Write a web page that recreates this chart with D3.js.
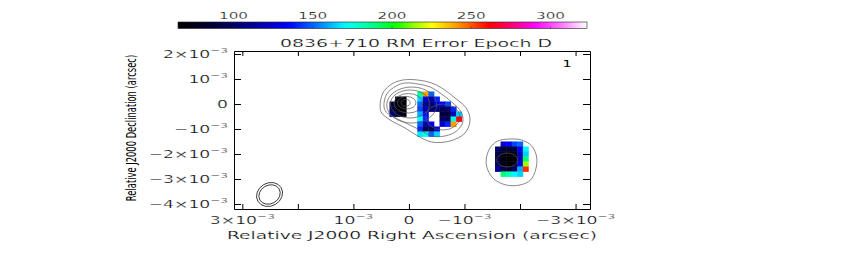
<!DOCTYPE html>
<html>
<head>
<meta charset="utf-8">
<script src="https://cdn.jsdelivr.net/npm/d3@7"></script>
<style>
  body { margin: 0; background: #fff; }
  svg text { font-family: "DejaVu Sans", sans-serif; fill: #000; stroke: #fff; stroke-width: 0.22; }
  svg text.plain { stroke: none; }
</style>
</head>
<body>
<div id="chart"></div>
<script>
// axis ticks (units of 1e-3 arcsec)
const X_TICKS = [3, 2, 1, 0, -1, -2, -3];
const X_TICK_LABELS = [["3×10", "−3"], null, ["10", "−3"], ["0", ""], ["−10", "−3"], null, ["−3×10", "−3"]];
const Y_TICKS = [2, 1, 0, -1, -2, -3, -4];
const Y_TICK_LABELS = [["2×10", "−3"], ["10", "−3"], ["0", ""], ["−10", "−3"], ["−2×10", "−3"], ["−3×10", "−3"], ["−4×10", "−3"]];

// colour wedge
const CB_TICKS = [100, 150, 200, 250, 300];
const CB_RANGE = [65, 323];
const COLOR_VALUES = [65, 86, 111, 135, 153, 171, 189, 202, 215, 225, 240, 261, 277, 290, 308, 323];
const COLOR_HEX = ["#000000", "#000030", "#000090", "#0000ff", "#0078ff", "#00ffff", "#00ff80", "#00ff00",
                   "#a0ff00", "#ffff00", "#ffa000", "#ff0000", "#ff0080", "#ff00ff", "#ff80ff", "#ffffff"];

// RM error pixels, cell size in 1e-3 arcsec
const CELL_DX = 0.1;
const CELL_DY = 0.2;

// core, top-left corner at (0.35, 0.3)
const CORE_ORIGIN = [0.35, 0.3];
const CORE_VALUES = [
  [null, 72, 70],
  [85, 68, 66],
  [92, 70, 68],
  [105, 82, 75]
];

// inner jet, top-left corner at (-0.15, 0.5)
const JET_ORIGIN = [-0.15, 0.5];
const JET_VALUES = [
  [185, 240, 150, null, null, null, null, null],
  [165, 125, 115, 140, null, null, null, null],
  [150, 110, 100, 125, 130, 145, null, null],
  [145, 115, 105, 105, 95, 100, 140, null],
  [160, 135, null, null, 90, 88, 120, 165],
  [170, 140, null, null, 100, 95, 175, 262],
  [150, 115, 130, null, 125, 140, 240, null],
  [140, 95, 92, 125, null, null, null, null],
  [168, 172, 150, 165, null, null, null, null]
];

// outer knot, top-left corner at (-1.55, -1.5)
const KNOT_ORIGIN = [-1.55, -1.5];
const KNOT_VALUES = [
  [null, 125, 135, 145, 150, null],
  [100, 90, 85, 90, 130, 170],
  [92, 75, 68, 72, 120, 165],
  [90, 70, 65, 68, 118, 190],
  [95, 75, 68, 75, 130, 215],
  [112, 92, 85, 100, 160, 255],
  [null, 190, 180, 170, 165, null]
];

// total intensity contours
const ENVELOPE_OUTER = [[0.52, -0.12], [0.47, 0.44], [0.31, 0.80], [0.11, 0.96], [-0.16, 0.96], [-0.41, 0.84],
  [-0.59, 0.64], [-0.83, 0.24], [-1.03, -0.16], [-1.10, -0.64], [-1.01, -1.16], [-0.74, -1.48],
  [-0.41, -1.52], [-0.16, -1.28], [0.07, -0.96], [0.34, -0.64], [0.49, -0.36]];
const ENVELOPE_INNER = [[0.45, -0.08], [0.40, 0.40], [0.23, 0.72], [0.07, 0.84], [-0.16, 0.80], [-0.38, 0.68],
  [-0.56, 0.44], [-0.77, 0.08], [-0.94, -0.32], [-0.97, -0.72], [-0.86, -1.08], [-0.65, -1.28],
  [-0.41, -1.28], [-0.20, -1.04], [0.02, -0.80], [0.27, -0.52], [0.41, -0.32]];
const KNOT_OUTLINE = [[-1.39, -2.24], [-1.46, -1.76], [-1.60, -1.48], [-1.82, -1.40], [-2.03, -1.44],
  [-2.21, -1.68], [-2.30, -2.12], [-2.28, -2.64], [-2.19, -3.04], [-2.00, -3.24], [-1.75, -3.24],
  [-1.53, -3.00], [-1.42, -2.64]];
// elliptical contours: cx, cy, rx, ry
const RINGS = [
  [-0.05, -0.04, 0.45, 0.72],
  [-0.02, 0.00, 0.355, 0.56],
  [0.01, 0.03, 0.26, 0.39],
  [0.04, 0.05, 0.166, 0.25],
  [0.06, 0.05, 0.081, 0.13],
  [-0.61, -0.52, 0.31, 0.52],
  [-1.77, -2.24, 0.19, 0.28]
];

// beam: cx, cy, rx, ry, angle
const BEAM = [
  [2.51, -3.62, 0.243, 0.46, -30],
  [2.51, -3.62, 0.20, 0.37, -30]
];

const WIDTH = 850, HEIGHT = 271;
const PLOT = {left: 234, right: 590, top: 51, bottom: 209};
const STRETCH = 1.72;

const svg = d3.select("#chart").append("svg")
  .attr("width", WIDTH).attr("height", HEIGHT);

const X = d3.scaleLinear().domain([3.15, -3.26]).range([PLOT.left, PLOT.right]);
const Y = d3.scaleLinear().domain([2.12, -4.2]).range([PLOT.top, PLOT.bottom]);
const COLOR = d3.scaleLinear().domain(COLOR_VALUES).range(COLOR_HEX).clamp(true);
const CB = d3.scaleLinear().domain(CB_RANGE).range([178, 587]);

// colour wedge
const grad = svg.append("defs").append("linearGradient").attr("id", "wedge");
d3.range(0, 1.0001, 0.02).forEach(t => {
  grad.append("stop").attr("offset", t)
    .attr("stop-color", COLOR(CB_RANGE[0] + t * (CB_RANGE[1] - CB_RANGE[0])));
});
svg.append("rect")
  .attr("x", CB(CB_RANGE[0])).attr("y", 22)
  .attr("width", CB(CB_RANGE[1]) - CB(CB_RANGE[0])).attr("height", 6.5)
  .attr("fill", "url(#wedge)").attr("stroke", "#222").attr("stroke-width", 0.6);
svg.selectAll(".cbtick").data(CB_TICKS).enter().append("line")
  .attr("x1", d => CB(d)).attr("x2", d => CB(d))
  .attr("y1", 26.5).attr("y2", 28.5)
  .attr("stroke", "#333").attr("stroke-width", 0.6);
svg.selectAll(".cblab").data(CB_TICKS).enter().append("g")
  .attr("transform", d => "translate(" + CB(d) + ",18.6) scale(1.9,1)")
  .append("text").attr("text-anchor", "middle").attr("font-size", 8)
  .text(d => d);

// title
svg.append("text")
  .attr("x", 416).attr("y", 47.3).attr("text-anchor", "middle")
  .attr("font-size", 10).attr("textLength", 272).attr("lengthAdjust", "spacingAndGlyphs")
  .text("0836+710  RM  Error  Epoch  D");

// RM error cells
function drawCells(values, origin) {
  const cells = [];
  values.forEach((row, r) => row.forEach((v, c) => {
    if (v !== null) cells.push({v: v, x: origin[0] - c * CELL_DX, y: origin[1] - r * CELL_DY});
  }));
  svg.append("g").selectAll("rect").data(cells).enter().append("rect")
    .attr("x", d => X(d.x))
    .attr("y", d => Y(d.y))
    .attr("width", d => X(d.x - CELL_DX) - X(d.x) + 0.4)
    .attr("height", d => Y(d.y - CELL_DY) - Y(d.y) + 0.4)
    .attr("fill", d => COLOR(d.v));
}
drawCells(CORE_VALUES, CORE_ORIGIN);
drawCells(JET_VALUES, JET_ORIGIN);
drawCells(KNOT_VALUES, KNOT_ORIGIN);

// contours
const contourLine = d3.line().x(d => X(d[0])).y(d => Y(d[1])).curve(d3.curveCatmullRomClosed);
const cg = svg.append("g").attr("fill", "none").attr("stroke", "#555").attr("stroke-width", 0.7);
[ENVELOPE_OUTER, ENVELOPE_INNER, KNOT_OUTLINE].forEach(pts => {
  cg.append("path").attr("d", contourLine(pts));
});
cg.selectAll("ellipse").data(RINGS).enter().append("ellipse")
  .attr("cx", d => X(d[0])).attr("cy", d => Y(d[1]))
  .attr("rx", d => X(d[0] - d[2]) - X(d[0]))
  .attr("ry", d => Y(d[1] - d[3]) - Y(d[1]));

// beam
svg.append("g").selectAll("ellipse").data(BEAM).enter().append("ellipse")
  .attr("transform", d => "translate(" + X(d[0]) + "," + Y(d[1]) + ") rotate(" + d[4] + ")")
  .attr("rx", d => X(d[0] - d[2]) - X(d[0]))
  .attr("ry", d => Y(d[1] - d[3]) - Y(d[1]))
  .attr("fill", "none").attr("stroke", "#222").attr("stroke-width", 0.8);

// frame and inward ticks
function frameAxis(axis, transform) {
  const g = svg.append("g").attr("transform", transform)
    .call(axis.tickSizeOuter(0).tickFormat(""));
  g.selectAll("path, line").attr("stroke", "#000").attr("stroke-width", 1);
}
frameAxis(d3.axisBottom(X).tickValues(X_TICKS).tickSize(-5), "translate(0," + PLOT.bottom + ")");
frameAxis(d3.axisTop(X).tickValues(X_TICKS).tickSize(-5), "translate(0," + PLOT.top + ")");
frameAxis(d3.axisLeft(Y).tickValues(Y_TICKS).tickSize(-7), "translate(" + PLOT.left + ",0)");
frameAxis(d3.axisRight(Y).tickValues(Y_TICKS).tickSize(-7), "translate(" + PLOT.right + ",0)");

// tick labels with superscripts
function powerLabel(sel, lab, anchor) {
  const t = sel.append("text").attr("text-anchor", anchor).attr("font-size", 10);
  t.append("tspan").text(lab[0]);
  if (lab[1]) t.append("tspan").attr("dy", -5).attr("font-size", 7).text(lab[1]);
}
X_TICKS.forEach((v, i) => {
  if (!X_TICK_LABELS[i]) return;
  const g = svg.append("g").attr("transform", "translate(" + X(v) + ",224) scale(" + STRETCH + ",1)");
  powerLabel(g, X_TICK_LABELS[i], "middle");
});
Y_TICKS.forEach((v, i) => {
  const g = svg.append("g").attr("transform", "translate(228," + (Y(v) + 3.8) + ") scale(" + STRETCH + ",1)");
  powerLabel(g, Y_TICK_LABELS[i], "end");
});

// axis titles
svg.append("text")
  .attr("x", 412).attr("y", 238.5).attr("text-anchor", "middle")
  .attr("font-size", 10.5).attr("textLength", 370).attr("lengthAdjust", "spacingAndGlyphs")
  .text("Relative J2000 Right Ascension (arcsec)");
svg.append("g")
  .attr("transform", "translate(135.5,128) rotate(-90) scale(0.62,1)")
  .append("text").attr("class", "plain").attr("text-anchor", "middle").attr("font-size", 13.5)
  .text("Relative J2000 Declination (arcsec)");

// panel number
svg.append("g").attr("transform", "translate(567,67) scale(1.6,1)")
  .append("text").attr("class", "plain").attr("text-anchor", "middle").attr("font-size", 9).text("1");
</script>
</body>
</html>
